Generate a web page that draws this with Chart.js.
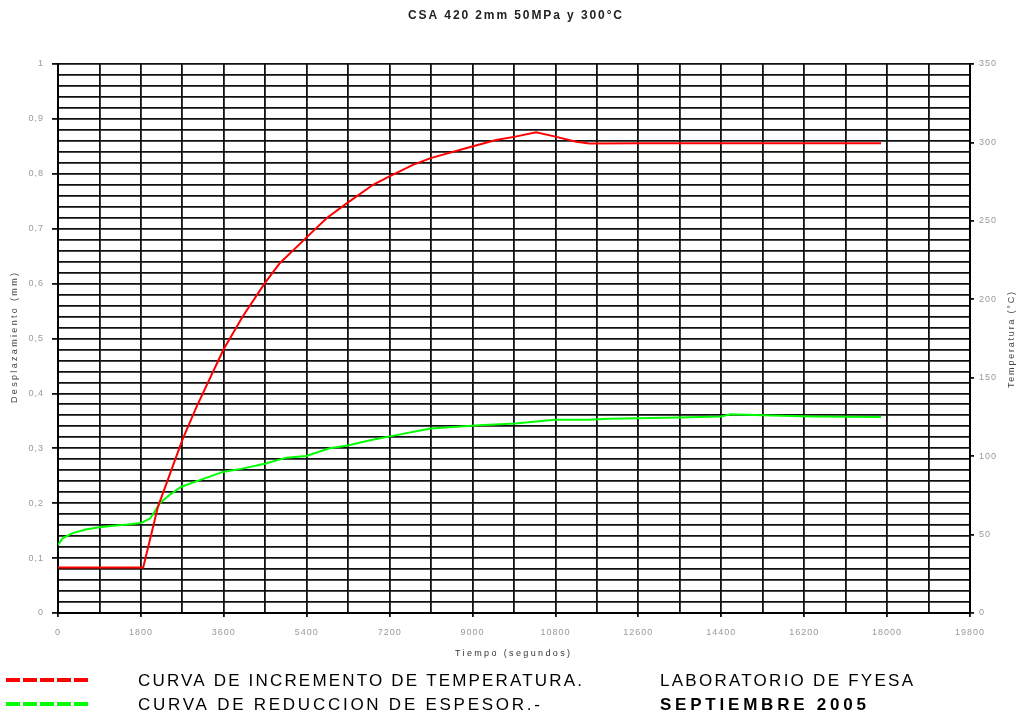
<!DOCTYPE html>
<html>
<head>
<meta charset="utf-8">
<script src="https://cdn.jsdelivr.net/npm/chart.js@4/dist/chart.umd.min.js"></script>
<style>
  html, body { margin: 0; padding: 0; background: #fff; }
  #wrap { width: 1020px; height: 719px; position: relative; }
</style>
</head>
<body>
<div id="wrap"><canvas id="c" width="1020" height="719"></canvas></div>
<script>
// ---- Data ----
const timeTemp = [0, 1800, 1850, 2170, 2700, 3010, 3590, 4010, 4490, 4815, 5380, 5830, 6275, 6840, 7185, 7705, 8090, 8970, 9510, 9930, 10380, 10800, 11250, 11540, 12600, 14400, 16200, 17870];
const tempValues = [29, 29, 29, 67.7, 110.4, 131.6, 167.8, 189, 210.3, 223, 239, 251.7, 261.3, 273, 278.2, 285.7, 290, 297.3, 301.6, 303.7, 306.4, 303.7, 300.5, 299.3, 299.5, 299.5, 299.5, 299.5];

const timeDisp = [0, 100, 300, 600, 900, 1200, 1500, 1800, 2000, 2100, 2210, 2420, 2680, 3075, 3580, 4000, 4490, 4960, 5390, 5900, 6290, 6800, 7345, 8090, 9150, 9930, 10780, 11500, 11970, 13490, 14390, 14600, 15300, 16380, 17870];
const dispValues = [0.124, 0.136, 0.145, 0.152, 0.156, 0.159, 0.161, 0.164, 0.172, 0.185, 0.2, 0.215, 0.23, 0.242, 0.257, 0.263, 0.272, 0.283, 0.286, 0.3, 0.305, 0.315, 0.324, 0.336, 0.342, 0.345, 0.352, 0.352, 0.354, 0.356, 0.358, 0.362, 0.36, 0.358, 0.357];

const leftTickLabels = ['0', '0,1', '0,2', '0,3', '0,4', '0,5', '0,6', '0,7', '0,8', '0,9', '1'];
const rightTickLabels = ['0', '50', '100', '150', '200', '250', '300', '350'];
const xTickLabels = ['0', '1800', '3600', '5400', '7200', '9000', '10800', '12600', '14400', '16200', '18000', '19800'];

const chartTitle = 'CSA 420 2mm 50MPa y 300°C';
const xTitle = 'Tiempo (segundos)';
const yTitle = 'Desplazamiento (mm)';
const y1Title = 'Temperatura (°C)';
const seriesNames = ['CURVA DE INCREMENTO DE TEMPERATURA.', 'CURVA DE REDUCCION DE ESPESOR.-'];
const footer = ['LABORATORIO DE FYESA', 'SEPTIEMBRE 2005'];

// ---- helpers ----
const FONT = '"Liberation Sans", Arial, sans-serif';
function isMajorY(v) { const i = Math.round(v * 10); return Math.abs(v * 10 - i) < 1e-6; }

function spacedText(ctx, text, left, cy, font, color, width) {
  ctx.save();
  ctx.font = font;
  ctx.letterSpacing = '0px';
  const w = ctx.measureText(text).width;
  const ls = text.length > 1 ? (width - w) / (text.length - 1) : 0;
  ctx.letterSpacing = ls + 'px';
  ctx.fillStyle = color;
  ctx.textAlign = 'left';
  ctx.textBaseline = 'middle';
  ctx.fillText(text, left, cy);
  ctx.restore();
}
function spacedTextVertical(ctx, text, cx, cy, font, color, width) {
  ctx.save();
  ctx.translate(cx, cy);
  ctx.rotate(-Math.PI / 2);
  spacedText(ctx, text, -width / 2, 0, font, color, width);
  ctx.restore();
}

const tickSpacing = {
  id: 'tickSpacing',
  beforeDraw(chart) { chart.ctx.letterSpacing = '1px'; },
  afterDatasetsDraw(chart) { chart.ctx.letterSpacing = '0px'; }
};

const texts = {
  id: 'texts',
  afterDraw(chart) {
    const ctx = chart.ctx;
    ctx.save();
    ctx.letterSpacing = '0px';
    // title
    spacedText(ctx, chartTitle, 408, 16, 'bold 12px ' + FONT, '#222', 214);
    // axis titles
    spacedText(ctx, xTitle, 455, 654, '9px ' + FONT, '#333', 115);
    spacedTextVertical(ctx, yTitle, 15, 338, '9px ' + FONT, '#444', 130);
    spacedTextVertical(ctx, y1Title, 1012, 340, '9px ' + FONT, '#444', 96);
    // legend swatches
    const sw = [[680, '#ff0000'], [704, '#00ff00']];
    sw.forEach(([y, c]) => {
      ctx.save();
      ctx.strokeStyle = c;
      ctx.lineWidth = 4;
      ctx.setLineDash([14, 3]);
      ctx.beginPath();
      ctx.moveTo(6, y);
      ctx.lineTo(88, y);
      ctx.stroke();
      ctx.restore();
    });
    spacedText(ctx, seriesNames[0], 138, 681, '17px ' + FONT, '#000', 444);
    spacedText(ctx, seriesNames[1], 138, 705, '17px ' + FONT, '#000', 402);
    spacedText(ctx, footer[0], 660, 681, '17px ' + FONT, '#000', 253);
    spacedText(ctx, footer[1], 660, 705, 'bold 17px ' + FONT, '#000', 206);
    ctx.restore();
  }
};

const GRID = '#111';
const GW = 1.8;

new Chart(document.getElementById('c'), {
  type: 'line',
  data: {
    datasets: [
      {
        label: seriesNames[0],
        data: timeTemp.map((t, i) => ({ x: t, y: tempValues[i] })),
        yAxisID: 'y1',
        borderColor: '#ff0000',
        borderWidth: 2,
        pointRadius: 0,
        tension: 0,
        fill: false
      },
      {
        label: seriesNames[1],
        data: timeDisp.map((t, i) => ({ x: t, y: dispValues[i] })),
        yAxisID: 'y',
        borderColor: '#00ff00',
        borderWidth: 2,
        pointRadius: 0,
        tension: 0,
        fill: false
      }
    ]
  },
  options: {
    responsive: false,
    animation: false,
    devicePixelRatio: 1,
    layout: { padding: { top: 64, left: 0, right: 0, bottom: 0 } },
    plugins: {
      legend: { display: false },
      title: { display: false },
      tooltip: { enabled: false }
    },
    scales: {
      x: {
        type: 'linear',
        min: 0,
        max: 19800,
        afterFit(s) { s.height = 106; },
        ticks: {
          stepSize: 900,
          autoSkip: false,
          maxRotation: 0,
          minRotation: 0,
          padding: 10,
          color: '#999',
          font: { family: FONT, size: 9 },
          callback: (v) => (v % 1800 === 0 ? xTickLabels[v / 1800] : '')
        },
        grid: {
          color: GRID,
          lineWidth: GW,
          tickLength: 4,
          tickColor: (c) => (c.tick && c.tick.value % 1800 === 0 ? GRID : 'rgba(0,0,0,0)')
        },
        border: { display: true, color: '#000', width: 2 }
      },
      y: {
        position: 'left',
        min: 0,
        max: 1,
        afterFit(s) { s.width = 58; },
        ticks: {
          stepSize: 0.02,
          maxTicksLimit: 1000,
          autoSkip: false,
          padding: 8,
          color: '#999',
          font: { family: FONT, size: 9 },
          callback: (v) => (isMajorY(v) ? leftTickLabels[Math.round(v * 10)] : '')
        },
        grid: {
          color: GRID,
          lineWidth: GW,
          tickLength: 6,
          tickColor: (c) => (c.tick && isMajorY(c.tick.value) ? GRID : 'rgba(0,0,0,0)')
        },
        border: { display: true, color: '#000', width: 2 }
      },
      y1: {
        position: 'right',
        min: 0,
        max: 350,
        afterFit(s) { s.width = 50; },
        ticks: {
          stepSize: 50,
          autoSkip: false,
          padding: 5,
          color: '#999',
          font: { family: FONT, size: 9 },
          callback: (v) => rightTickLabels[Math.round(v / 50)]
        },
        grid: {
          drawOnChartArea: false,
          tickLength: 4,
          tickColor: GRID,
          lineWidth: GW
        },
        border: { display: true, color: '#000', width: 2 }
      }
    }
  },
  plugins: [tickSpacing, texts]
});
</script>
</body>
</html>
